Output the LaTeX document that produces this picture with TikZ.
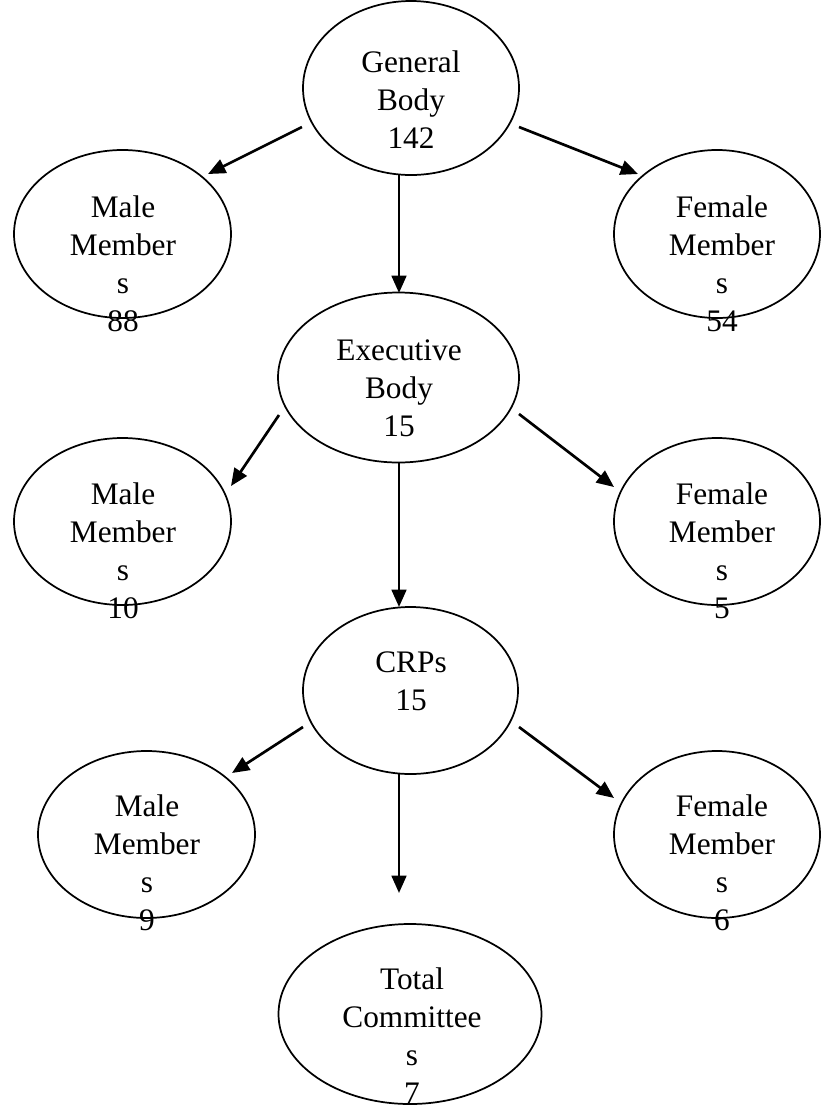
\documentclass[tikz,border=0pt]{standalone}
\usepackage{fontspec}
\setmainfont{Liberation Serif}
\usetikzlibrary{arrows.meta,shapes.geometric}
\begin{document}
\begin{tikzpicture}[x=0.75pt,y=-0.75pt,
  oval/.style={draw, line width=1.3pt, ellipse, inner sep=0pt},
  lbl/.style={align=center, anchor=base, inner sep=0pt, font=\fontsize{23.5}{28.5}\selectfont},
  arr/.style={-{Triangle[length=13pt,width=11pt]}, line width=2pt}]
\useasboundingbox (0,0) rectangle (821,1108);
% ellipses
\node[oval, minimum width=216*0.75pt, minimum height=174*0.75pt] (gb) at (411,88) {};
\node[oval, minimum width=217*0.75pt, minimum height=168*0.75pt] (mm1) at (122.5,234) {};
\node[oval, minimum width=206*0.75pt, minimum height=168*0.75pt] (fm1) at (717,234) {};
\node[oval, minimum width=241*0.75pt, minimum height=170*0.75pt] (eb) at (398.5,377.5) {};
\node[oval, minimum width=217*0.75pt, minimum height=167*0.75pt] (mm2) at (122.5,521.5) {};
\node[oval, minimum width=206*0.75pt, minimum height=167*0.75pt] (fm2) at (717,521.5) {};
\node[oval, minimum width=215*0.75pt, minimum height=167*0.75pt] (crp) at (410.5,690.5) {};
\node[oval, minimum width=217*0.75pt, minimum height=167*0.75pt] (mm3) at (146.5,834.5) {};
\node[oval, minimum width=206*0.75pt, minimum height=167*0.75pt] (fm3) at (717,834.5) {};
\node[oval, minimum width=263*0.75pt, minimum height=180*0.75pt] (tc) at (410,1014) {};
% texts (anchored at the baseline of the last line)
\node[lbl] (gbt) at (411,148) {General\\Body\\142};
\node[lbl] (mm1t) at (123,331) {Male\\Member\\s\\88};
\node[lbl] (fm1t) at (722,331) {Female\\Member\\s\\54};
\node[lbl] (ebt) at (399,436) {Executive\\Body\\15};
\node[lbl] (mm2t) at (123,618) {Male\\Member\\s\\10};
\node[lbl] (fm2t) at (722,618) {Female\\Member\\s\\5};
\node[lbl] (crpt) at (411,710) {CRPs\\15};
\node[lbl] (mm3t) at (147,930) {Male\\Member\\s\\9};
\node[lbl] (fm3t) at (722,930) {Female\\Member\\s\\6};
\node[lbl] (tct) at (412,1103) {Total\\Committee\\s\\7};
% arrows
\draw[arr] ([shift={(-109,39)}]gb.center) -- ([shift={(85.5,-60)}]mm1.center);
\draw[arr] ([shift={(108,39)}]gb.center) -- ([shift={(-79,-60)}]fm1.center);
\draw[arr] ([shift={(-12,86)}]gb.center) -- ([shift={(0.5,-84.5)}]eb.center);
\draw[arr] ([shift={(-119.5,37.5)}]eb.center) -- ([shift={(108.5,-35.5)}]mm2.center);
\draw[arr] ([shift={(120.5,36.5)}]eb.center) -- ([shift={(-103,-34.5)}]fm2.center);
\draw[arr] ([shift={(0.5,84.5)}]eb.center) -- ([shift={(-11.5,-83.5)}]crp.center);
\draw[arr] ([shift={(-107.5,36.5)}]crp.center) -- ([shift={(85.5,-61.5)}]mm3.center);
\draw[arr] ([shift={(108.5,36.5)}]crp.center) -- ([shift={(-103,-36.5)}]fm3.center);
\draw[arr] ([shift={(-11.5,83.5)}]crp.center) -- ([shift={(-11,-121)}]tc.center);
\end{tikzpicture}
\end{document}
